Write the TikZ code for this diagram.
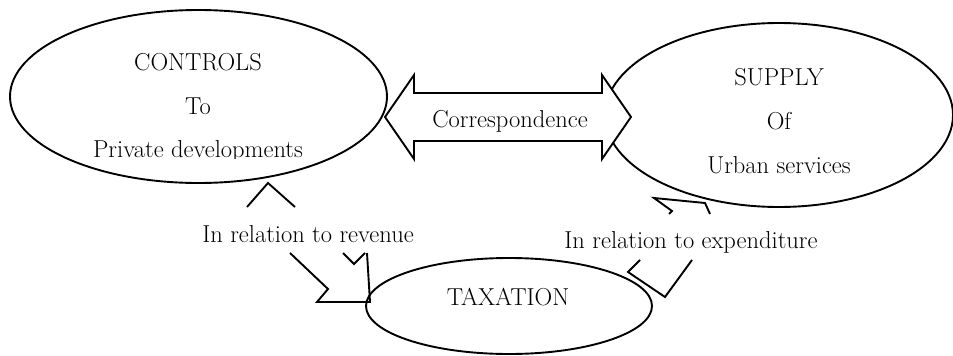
\documentclass[tikz,border=0pt]{standalone}
\usetikzlibrary{shapes.geometric}
\begin{document}
\begin{tikzpicture}[x=1pt,y=-1pt,
  line width=1.9pt, line join=miter,
  ell/.style={draw, ellipse, fill=white, inner sep=0pt},
  txt/.style={anchor=base, inner sep=0pt, font=\fontsize{24.5}{29}\selectfont},
  blockarrow/.style={draw, fill=white}
]
\useasboundingbox (0,0) rectangle (953,356);

% CONTROLS ellipse
\node[ell, minimum width=377pt, minimum height=173pt] (controls) at (198.5,96.5) {};
\node[txt] (c1) at (198,70) {CONTROLS};
\node[txt] (c2) at (198,114) {To};
\begin{scope}
  \clip (0,0) rectangle (400,158);
  \node[txt] (c3) at (198,157) {Private developments};
\end{scope}

% SUPPLY ellipse
\node[ell, minimum width=348pt, minimum height=184pt] (supply) at (779,115) {};
\node[txt] (s1) at (779,85) {SUPPLY};
\node[txt] (s2) at (779,129) {Of};
\node[txt] (s3) at (779,173) {Urban services};

% Correspondence double arrow
\draw[blockarrow] (385,117) -- (414,75) -- (414,93) -- (602,93) -- (602,75)
  -- (631,117) -- (602,159) -- (602,141) -- (414,141) -- (414,159) -- cycle;
\node[txt] (corr) at (510,127) {Correspondence};

% TAXATION ellipse
\node[ell, minimum width=286pt, minimum height=96pt] (tax) at (509,306) {};
\node[txt] (t1) at (508,305) {TAXATION};

% revenue arrow (visible parts)
\draw (247,207) -- (268,183) -- (295,207);
\draw (290,253) -- (328,289) -- (317,302) -- (370,302) -- (367,253);
\draw (343,253) -- (354,264) -- (365,253);
\node[txt] (rev) at (308,242) {In relation to revenue};

% expenditure arrow (visible parts)
\draw (710,214) -- (705,203) -- (654,198) -- (672,211) -- (669,214);
\draw (640,260) -- (628,272) -- (665,297) -- (692,260);
\node[txt] (exp) at (691,248) {In relation to expenditure};
\end{tikzpicture}
\end{document}
